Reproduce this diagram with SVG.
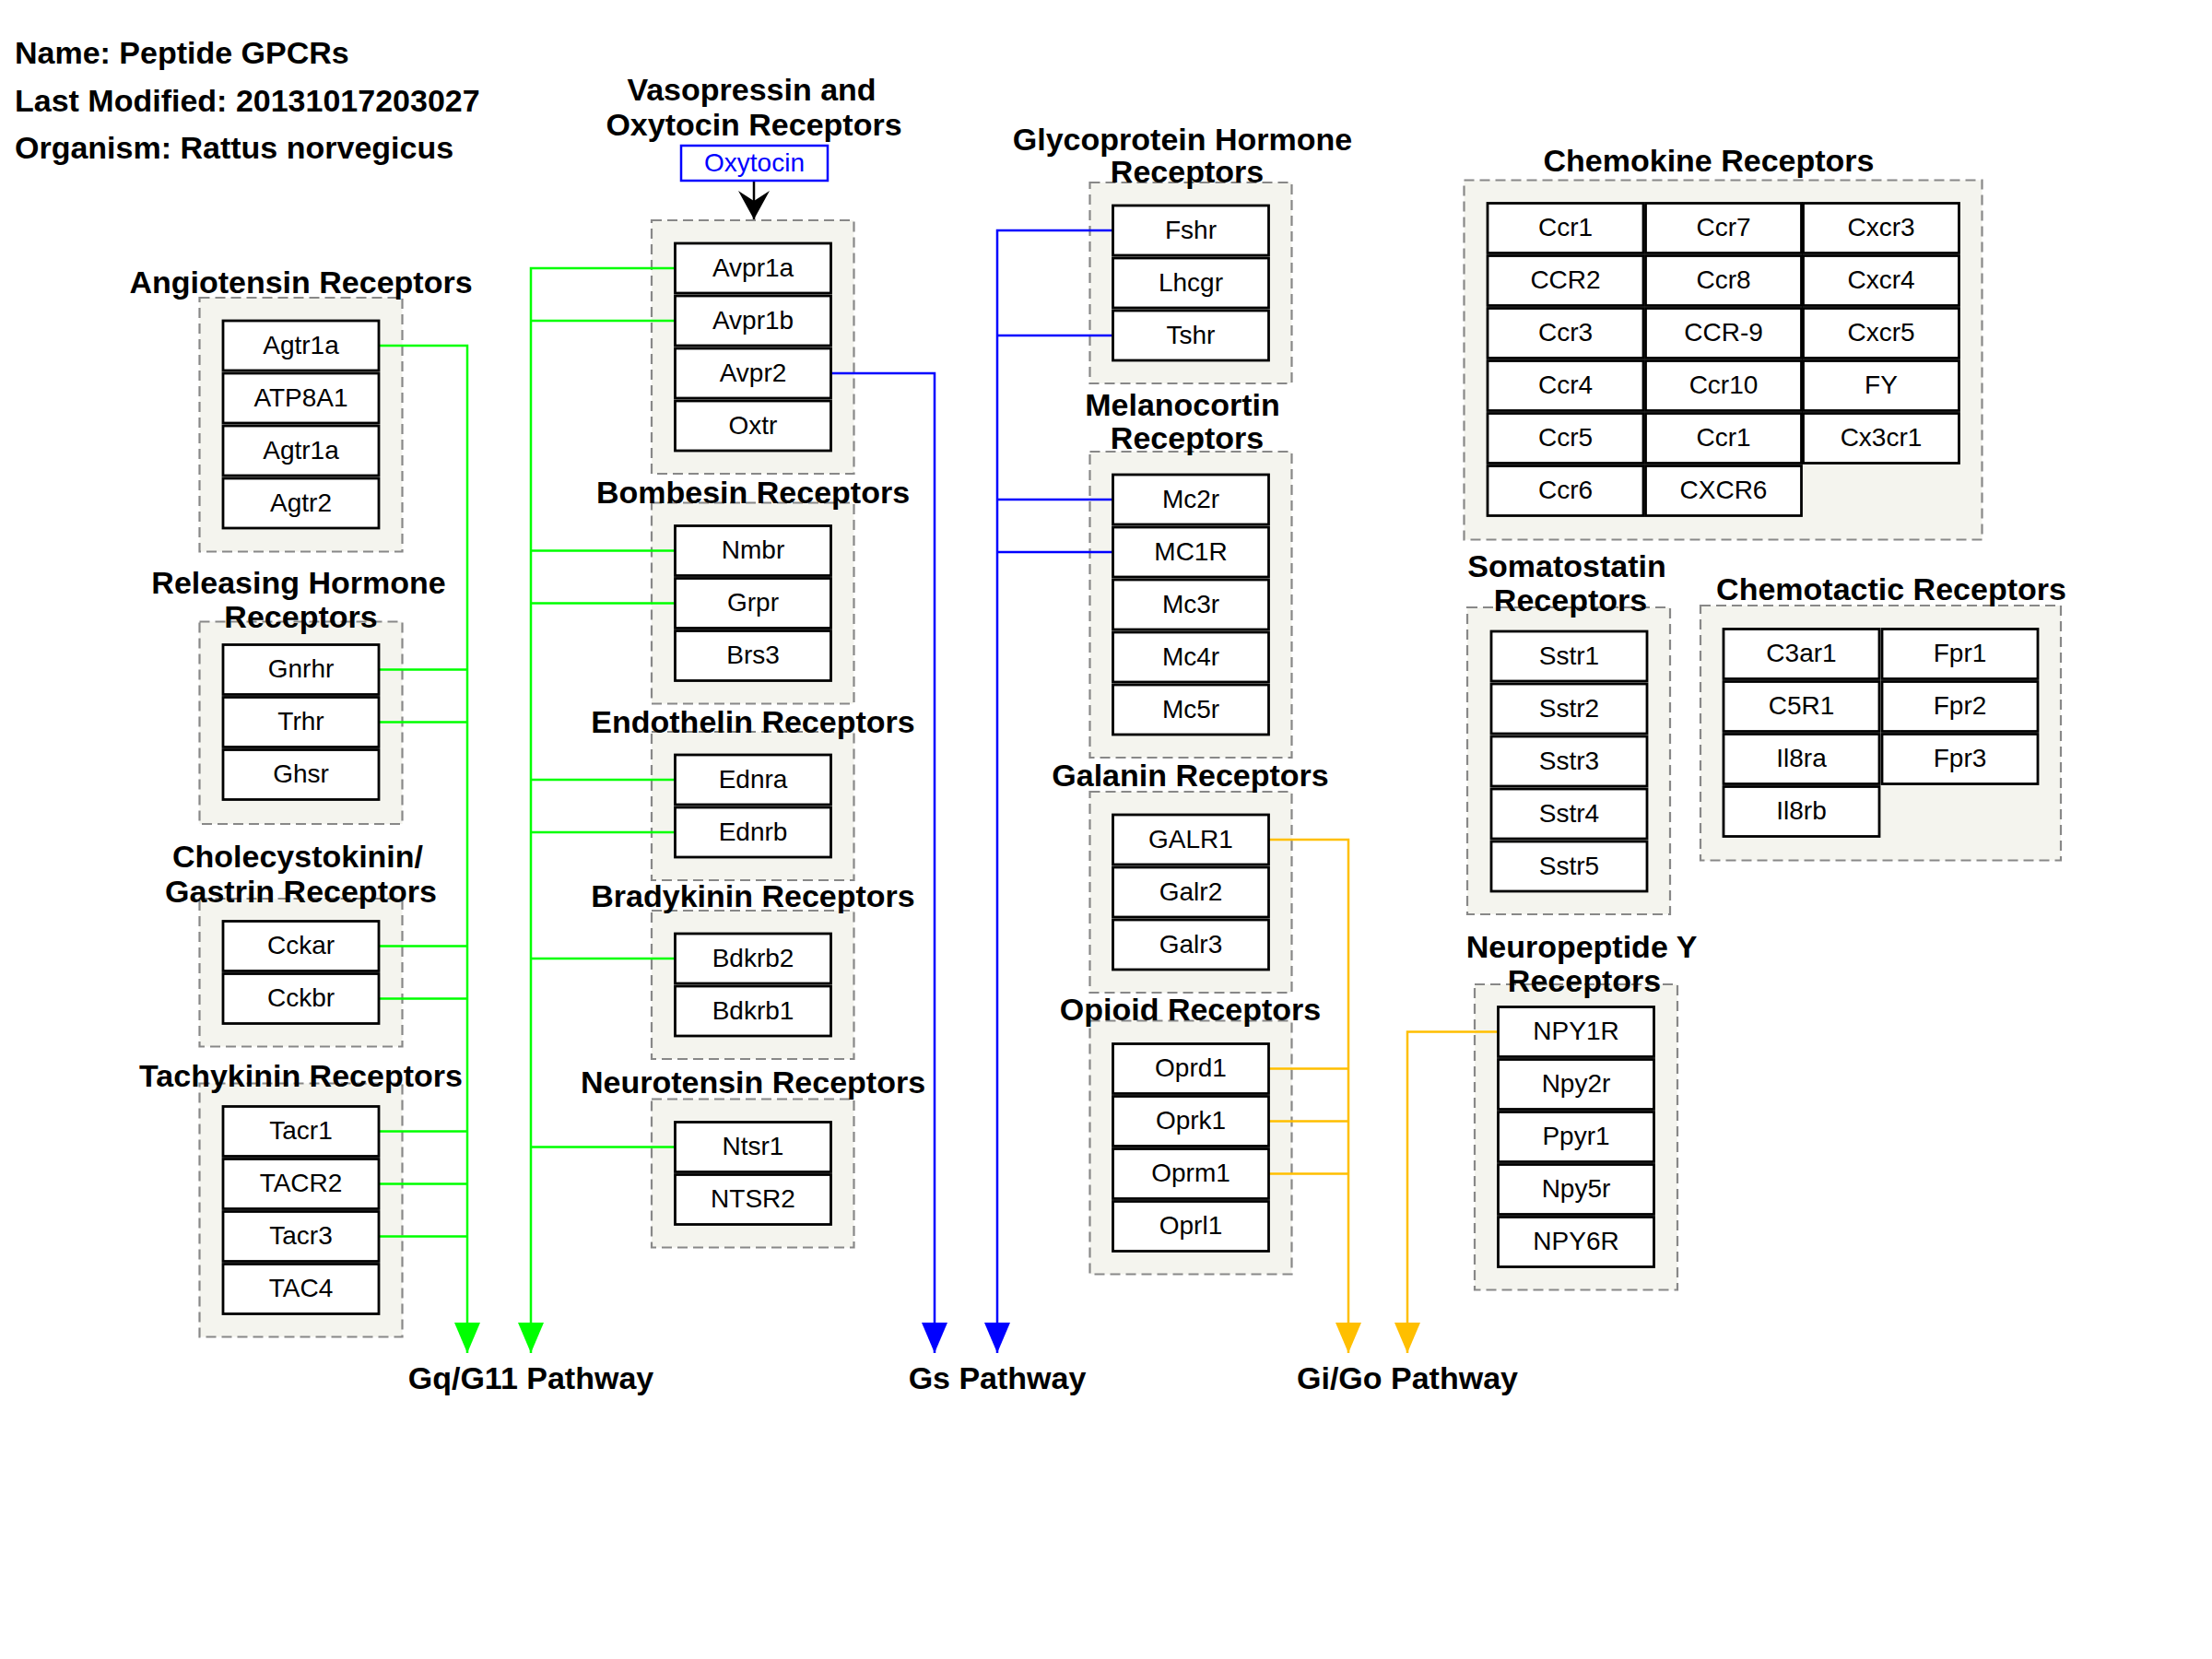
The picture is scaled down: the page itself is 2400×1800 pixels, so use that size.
<svg xmlns="http://www.w3.org/2000/svg" width="2400" height="1800" viewBox="0 0 2400 1800">
<style>
.grp{fill:#f4f4ee;stroke:#888;stroke-width:2.2;stroke-dasharray:11,6}
.box{fill:#fff;stroke:#000;stroke-width:2.8}
.lbl{font-family:"Liberation Sans",Arial,sans-serif;font-size:28px;text-anchor:middle;fill:#000}
.ttl{font-family:"Liberation Sans",Arial,sans-serif;font-size:34px;font-weight:bold;text-anchor:middle;fill:#000}
.hdr{font-family:"Liberation Sans",Arial,sans-serif;font-size:34px;font-weight:bold;fill:#000}
.pw{font-family:"Liberation Sans",Arial,sans-serif;font-size:34px;font-weight:bold;text-anchor:middle;fill:#000}
.gq{fill:none;stroke:#00ff00;stroke-width:2.5}
.gs{fill:none;stroke:#0000ff;stroke-width:2.5}
.gi{fill:none;stroke:#ffbf00;stroke-width:2.5}
</style>
<defs>
<marker id="mG" markerUnits="userSpaceOnUse" markerWidth="34" markerHeight="30" refX="33" refY="14" orient="auto" viewBox="0 0 34 30"><path d="M0,0 L33,14 L0,28 Z" fill="#00ff00"/></marker>
<marker id="mB" markerUnits="userSpaceOnUse" markerWidth="34" markerHeight="30" refX="33" refY="14" orient="auto" viewBox="0 0 34 30"><path d="M0,0 L33,14 L0,28 Z" fill="#0000ff"/></marker>
<marker id="mO" markerUnits="userSpaceOnUse" markerWidth="34" markerHeight="30" refX="33" refY="14" orient="auto" viewBox="0 0 34 30"><path d="M0,0 L33,14 L0,28 Z" fill="#ffbf00"/></marker>
<marker id="mK" markerUnits="userSpaceOnUse" markerWidth="33" markerHeight="35" refX="31" refY="17" orient="auto" viewBox="0 0 33 35"><path d="M0,0 L31,17 L0,34 L11,17 Z" fill="#000"/></marker>
</defs>
<rect width="2400" height="1800" fill="#fff"/>

<g id="header">
<text class="hdr" x="16" y="69">Name: Peptide GPCRs</text>
<text class="hdr" x="16" y="121">Last Modified: 20131017203027</text>
<text class="hdr" x="16" y="172">Organism: Rattus norvegicus</text>
</g>

<!-- group frames -->
<g id="grp-angiotensin"><rect class="grp" x="216.5" y="323" width="220" height="275.5"/><text class="ttl" x="326.5" y="318">Angiotensin Receptors</text></g>
<g id="grp-releasing"><rect class="grp" x="216.5" y="674.5" width="220" height="219.5"/><text class="ttl" x="324" y="644">Releasing Hormone</text><text class="ttl" x="326.5" y="681">Receptors</text></g>
<g id="grp-cck"><rect class="grp" x="216.5" y="975" width="220" height="160.5"/><text class="ttl" x="323" y="941">Cholecystokinin/</text><text class="ttl" x="326.5" y="978.5">Gastrin Receptors</text></g>
<g id="grp-tachykinin"><rect class="grp" x="216.5" y="1175.5" width="220" height="275"/><text class="ttl" x="326.5" y="1178.5">Tachykinin Receptors</text></g>

<g id="grp-vasopressin"><rect class="grp" x="707" y="239" width="219.5" height="275"/><text class="ttl" x="815.5" y="109">Vasopressin and</text><text class="ttl" x="818" y="147">Oxytocin Receptors</text></g>
<g id="grp-bombesin"><rect class="grp" x="707" y="545.5" width="219.5" height="218"/><text class="ttl" x="817" y="546">Bombesin Receptors</text></g>
<g id="grp-endothelin"><rect class="grp" x="707" y="794" width="219.5" height="161"/><text class="ttl" x="817" y="795">Endothelin Receptors</text></g>
<g id="grp-bradykinin"><rect class="grp" x="707" y="988" width="219.5" height="161"/><text class="ttl" x="817" y="984">Bradykinin Receptors</text></g>
<g id="grp-neurotensin"><rect class="grp" x="707" y="1192.5" width="219.5" height="161"/><text class="ttl" x="817" y="1186">Neurotensin Receptors</text></g>

<g id="grp-glyco"><rect class="grp" x="1182.5" y="198" width="219" height="218"/><text class="ttl" x="1283" y="162.5">Glycoprotein Hormone</text><text class="ttl" x="1288" y="197.5">Receptors</text></g>
<g id="grp-melano"><rect class="grp" x="1182.5" y="490" width="219" height="332"/><text class="ttl" x="1283" y="450.5">Melanocortin</text><text class="ttl" x="1288" y="487">Receptors</text></g>
<g id="grp-galanin"><rect class="grp" x="1182.5" y="859" width="219" height="218"/><text class="ttl" x="1291.5" y="853">Galanin Receptors</text></g>
<g id="grp-opioid"><rect class="grp" x="1182.5" y="1107.5" width="219" height="275"/><text class="ttl" x="1291.5" y="1106.5">Opioid Receptors</text></g>

<g id="grp-chemokine"><rect class="grp" x="1588.5" y="195.5" width="562" height="390"/><text class="ttl" x="1854" y="186">Chemokine Receptors</text></g>
<g id="grp-somatostatin"><rect class="grp" x="1592" y="659" width="220" height="333"/><text class="ttl" x="1700" y="625.5">Somatostatin</text><text class="ttl" x="1704" y="662.5">Receptors</text></g>
<g id="grp-chemotactic"><rect class="grp" x="1845" y="657" width="391" height="276.5"/><text class="ttl" x="2052" y="651">Chemotactic Receptors</text></g>
<g id="grp-npy"><rect class="grp" x="1600" y="1068" width="220" height="331.5"/><text class="ttl" x="1716" y="1039">Neuropeptide Y</text><text class="ttl" x="1719" y="1075.5">Receptors</text></g>

<!-- connectors -->
<g id="connectors">
<path class="gq" d="M411,375 H507 V1468" marker-end="url(#mG)"/>
<path class="gq" d="M411,726.5 H507 M411,783.5 H507 M411,1026.5 H507 M411,1083.5 H507 M411,1227.5 H507 M411,1284.5 H507 M411,1341.5 H507"/>
<path class="gq" d="M732.5,291 H576 V1468" marker-end="url(#mG)"/>
<path class="gq" d="M576,348 H732.5 M576,597.5 H732.5 M576,654.5 H732.5 M576,846 H732.5 M576,903 H732.5 M576,1040 H732.5 M576,1244.5 H732.5"/>
<path class="gs" d="M901.5,405 H1014 V1468" marker-end="url(#mB)"/>
<path class="gs" d="M1207.5,250 H1082 V1468" marker-end="url(#mB)"/>
<path class="gs" d="M1082,364 H1207.5 M1082,542 H1207.5 M1082,599 H1207.5"/>
<path class="gi" d="M1376.5,911 H1463 V1468" marker-end="url(#mO)"/>
<path class="gi" d="M1376.5,1159.5 H1463 M1376.5,1216.5 H1463 M1376.5,1273.5 H1463"/>
<path class="gi" d="M1625.5,1119.5 H1527 V1468" marker-end="url(#mO)"/>
<path d="M818,196 V238" fill="none" stroke="#000" stroke-width="2.5" marker-end="url(#mK)"/>
</g>

<!-- nodes -->
<g id="oxytocin"><rect x="739" y="158" width="159" height="38" fill="#fff" stroke="#0000ff" stroke-width="2.5"/><text class="lbl" x="818.5" y="186" style="fill:#0000ff">Oxytocin</text></g>

<g id="n-Agtr1a"><rect class="box" x="242" y="348" width="169" height="54"/><text class="lbl" x="326.5" y="383.5">Agtr1a</text></g>
<g id="n-ATP8A1"><rect class="box" x="242" y="405" width="169" height="54"/><text class="lbl" x="326.5" y="440.5">ATP8A1</text></g>
<g id="n-Agtr1a-2"><rect class="box" x="242" y="462" width="169" height="54"/><text class="lbl" x="326.5" y="497.5">Agtr1a</text></g>
<g id="n-Agtr2"><rect class="box" x="242" y="519" width="169" height="54"/><text class="lbl" x="326.5" y="554.5">Agtr2</text></g>

<g id="n-Gnrhr"><rect class="box" x="242" y="699.5" width="169" height="54"/><text class="lbl" x="326.5" y="735">Gnrhr</text></g>
<g id="n-Trhr"><rect class="box" x="242" y="756.5" width="169" height="54"/><text class="lbl" x="326.5" y="792">Trhr</text></g>
<g id="n-Ghsr"><rect class="box" x="242" y="813.5" width="169" height="54"/><text class="lbl" x="326.5" y="849">Ghsr</text></g>

<g id="n-Cckar"><rect class="box" x="242" y="999.5" width="169" height="54"/><text class="lbl" x="326.5" y="1035">Cckar</text></g>
<g id="n-Cckbr"><rect class="box" x="242" y="1056.5" width="169" height="54"/><text class="lbl" x="326.5" y="1092">Cckbr</text></g>

<g id="n-Tacr1"><rect class="box" x="242" y="1200.5" width="169" height="54"/><text class="lbl" x="326.5" y="1236">Tacr1</text></g>
<g id="n-TACR2"><rect class="box" x="242" y="1257.5" width="169" height="54"/><text class="lbl" x="326.5" y="1293">TACR2</text></g>
<g id="n-Tacr3"><rect class="box" x="242" y="1314.5" width="169" height="54"/><text class="lbl" x="326.5" y="1350">Tacr3</text></g>
<g id="n-TAC4"><rect class="box" x="242" y="1371.5" width="169" height="54"/><text class="lbl" x="326.5" y="1407">TAC4</text></g>

<g id="n-Avpr1a"><rect class="box" x="732.5" y="264" width="169" height="54"/><text class="lbl" x="817" y="299.5">Avpr1a</text></g>
<g id="n-Avpr1b"><rect class="box" x="732.5" y="321" width="169" height="54"/><text class="lbl" x="817" y="356.5">Avpr1b</text></g>
<g id="n-Avpr2"><rect class="box" x="732.5" y="378" width="169" height="54"/><text class="lbl" x="817" y="413.5">Avpr2</text></g>
<g id="n-Oxtr"><rect class="box" x="732.5" y="435" width="169" height="54"/><text class="lbl" x="817" y="470.5">Oxtr</text></g>

<g id="n-Nmbr"><rect class="box" x="732.5" y="570.5" width="169" height="54"/><text class="lbl" x="817" y="606">Nmbr</text></g>
<g id="n-Grpr"><rect class="box" x="732.5" y="627.5" width="169" height="54"/><text class="lbl" x="817" y="663">Grpr</text></g>
<g id="n-Brs3"><rect class="box" x="732.5" y="684.5" width="169" height="54"/><text class="lbl" x="817" y="720">Brs3</text></g>

<g id="n-Ednra"><rect class="box" x="732.5" y="819" width="169" height="54"/><text class="lbl" x="817" y="854.5">Ednra</text></g>
<g id="n-Ednrb"><rect class="box" x="732.5" y="876" width="169" height="54"/><text class="lbl" x="817" y="911.5">Ednrb</text></g>

<g id="n-Bdkrb2"><rect class="box" x="732.5" y="1013" width="169" height="54"/><text class="lbl" x="817" y="1048.5">Bdkrb2</text></g>
<g id="n-Bdkrb1"><rect class="box" x="732.5" y="1070" width="169" height="54"/><text class="lbl" x="817" y="1105.5">Bdkrb1</text></g>

<g id="n-Ntsr1"><rect class="box" x="732.5" y="1217.5" width="169" height="54"/><text class="lbl" x="817" y="1253">Ntsr1</text></g>
<g id="n-NTSR2"><rect class="box" x="732.5" y="1274.5" width="169" height="54"/><text class="lbl" x="817" y="1310">NTSR2</text></g>

<g id="n-Fshr"><rect class="box" x="1207.5" y="223" width="169" height="54"/><text class="lbl" x="1292" y="258.5">Fshr</text></g>
<g id="n-Lhcgr"><rect class="box" x="1207.5" y="280" width="169" height="54"/><text class="lbl" x="1292" y="315.5">Lhcgr</text></g>
<g id="n-Tshr"><rect class="box" x="1207.5" y="337" width="169" height="54"/><text class="lbl" x="1292" y="372.5">Tshr</text></g>

<g id="n-Mc2r"><rect class="box" x="1207.5" y="515" width="169" height="54"/><text class="lbl" x="1292" y="550.5">Mc2r</text></g>
<g id="n-MC1R"><rect class="box" x="1207.5" y="572" width="169" height="54"/><text class="lbl" x="1292" y="607.5">MC1R</text></g>
<g id="n-Mc3r"><rect class="box" x="1207.5" y="629" width="169" height="54"/><text class="lbl" x="1292" y="664.5">Mc3r</text></g>
<g id="n-Mc4r"><rect class="box" x="1207.5" y="686" width="169" height="54"/><text class="lbl" x="1292" y="721.5">Mc4r</text></g>
<g id="n-Mc5r"><rect class="box" x="1207.5" y="743" width="169" height="54"/><text class="lbl" x="1292" y="778.5">Mc5r</text></g>

<g id="n-GALR1"><rect class="box" x="1207.5" y="884" width="169" height="54"/><text class="lbl" x="1292" y="919.5">GALR1</text></g>
<g id="n-Galr2"><rect class="box" x="1207.5" y="941" width="169" height="54"/><text class="lbl" x="1292" y="976.5">Galr2</text></g>
<g id="n-Galr3"><rect class="box" x="1207.5" y="998" width="169" height="54"/><text class="lbl" x="1292" y="1033.5">Galr3</text></g>

<g id="n-Oprd1"><rect class="box" x="1207.5" y="1132.5" width="169" height="54"/><text class="lbl" x="1292" y="1168">Oprd1</text></g>
<g id="n-Oprk1"><rect class="box" x="1207.5" y="1189.5" width="169" height="54"/><text class="lbl" x="1292" y="1225">Oprk1</text></g>
<g id="n-Oprm1"><rect class="box" x="1207.5" y="1246.5" width="169" height="54"/><text class="lbl" x="1292" y="1282">Oprm1</text></g>
<g id="n-Oprl1"><rect class="box" x="1207.5" y="1303.5" width="169" height="54"/><text class="lbl" x="1292" y="1339">Oprl1</text></g>

<g id="n-Ccr1"><rect class="box" x="1614" y="220.5" width="169" height="54"/><text class="lbl" x="1698.5" y="256">Ccr1</text></g>
<g id="n-CCR2"><rect class="box" x="1614" y="277.5" width="169" height="54"/><text class="lbl" x="1698.5" y="313">CCR2</text></g>
<g id="n-Ccr3"><rect class="box" x="1614" y="334.5" width="169" height="54"/><text class="lbl" x="1698.5" y="370">Ccr3</text></g>
<g id="n-Ccr4"><rect class="box" x="1614" y="391.5" width="169" height="54"/><text class="lbl" x="1698.5" y="427">Ccr4</text></g>
<g id="n-Ccr5"><rect class="box" x="1614" y="448.5" width="169" height="54"/><text class="lbl" x="1698.5" y="484">Ccr5</text></g>
<g id="n-Ccr6"><rect class="box" x="1614" y="505.5" width="169" height="54"/><text class="lbl" x="1698.5" y="541">Ccr6</text></g>
<g id="n-Ccr7"><rect class="box" x="1785.5" y="220.5" width="169" height="54"/><text class="lbl" x="1870" y="256">Ccr7</text></g>
<g id="n-Ccr8"><rect class="box" x="1785.5" y="277.5" width="169" height="54"/><text class="lbl" x="1870" y="313">Ccr8</text></g>
<g id="n-CCR-9"><rect class="box" x="1785.5" y="334.5" width="169" height="54"/><text class="lbl" x="1870" y="370">CCR-9</text></g>
<g id="n-Ccr10"><rect class="box" x="1785.5" y="391.5" width="169" height="54"/><text class="lbl" x="1870" y="427">Ccr10</text></g>
<g id="n-Ccr1-2"><rect class="box" x="1785.5" y="448.5" width="169" height="54"/><text class="lbl" x="1870" y="484">Ccr1</text></g>
<g id="n-CXCR6"><rect class="box" x="1785.5" y="505.5" width="169" height="54"/><text class="lbl" x="1870" y="541">CXCR6</text></g>
<g id="n-Cxcr3"><rect class="box" x="1956.5" y="220.5" width="169" height="54"/><text class="lbl" x="2041" y="256">Cxcr3</text></g>
<g id="n-Cxcr4"><rect class="box" x="1956.5" y="277.5" width="169" height="54"/><text class="lbl" x="2041" y="313">Cxcr4</text></g>
<g id="n-Cxcr5"><rect class="box" x="1956.5" y="334.5" width="169" height="54"/><text class="lbl" x="2041" y="370">Cxcr5</text></g>
<g id="n-FY"><rect class="box" x="1956.5" y="391.5" width="169" height="54"/><text class="lbl" x="2041" y="427">FY</text></g>
<g id="n-Cx3cr1"><rect class="box" x="1956.5" y="448.5" width="169" height="54"/><text class="lbl" x="2041" y="484">Cx3cr1</text></g>

<g id="n-Sstr1"><rect class="box" x="1618" y="685" width="169" height="54"/><text class="lbl" x="1702.5" y="720.5">Sstr1</text></g>
<g id="n-Sstr2"><rect class="box" x="1618" y="742" width="169" height="54"/><text class="lbl" x="1702.5" y="777.5">Sstr2</text></g>
<g id="n-Sstr3"><rect class="box" x="1618" y="799" width="169" height="54"/><text class="lbl" x="1702.5" y="834.5">Sstr3</text></g>
<g id="n-Sstr4"><rect class="box" x="1618" y="856" width="169" height="54"/><text class="lbl" x="1702.5" y="891.5">Sstr4</text></g>
<g id="n-Sstr5"><rect class="box" x="1618" y="913" width="169" height="54"/><text class="lbl" x="1702.5" y="948.5">Sstr5</text></g>

<g id="n-C3ar1"><rect class="box" x="1870" y="682.5" width="169" height="54"/><text class="lbl" x="1954.5" y="718">C3ar1</text></g>
<g id="n-C5R1"><rect class="box" x="1870" y="739.5" width="169" height="54"/><text class="lbl" x="1954.5" y="775">C5R1</text></g>
<g id="n-Il8ra"><rect class="box" x="1870" y="796.5" width="169" height="54"/><text class="lbl" x="1954.5" y="832">Il8ra</text></g>
<g id="n-Il8rb"><rect class="box" x="1870" y="853.5" width="169" height="54"/><text class="lbl" x="1954.5" y="889">Il8rb</text></g>
<g id="n-Fpr1"><rect class="box" x="2042" y="682.5" width="169" height="54"/><text class="lbl" x="2126.5" y="718">Fpr1</text></g>
<g id="n-Fpr2"><rect class="box" x="2042" y="739.5" width="169" height="54"/><text class="lbl" x="2126.5" y="775">Fpr2</text></g>
<g id="n-Fpr3"><rect class="box" x="2042" y="796.5" width="169" height="54"/><text class="lbl" x="2126.5" y="832">Fpr3</text></g>

<g id="n-NPY1R"><rect class="box" x="1625.5" y="1092.5" width="169" height="54"/><text class="lbl" x="1710" y="1128">NPY1R</text></g>
<g id="n-Npy2r"><rect class="box" x="1625.5" y="1149.5" width="169" height="54"/><text class="lbl" x="1710" y="1185">Npy2r</text></g>
<g id="n-Ppyr1"><rect class="box" x="1625.5" y="1206.5" width="169" height="54"/><text class="lbl" x="1710" y="1242">Ppyr1</text></g>
<g id="n-Npy5r"><rect class="box" x="1625.5" y="1263.5" width="169" height="54"/><text class="lbl" x="1710" y="1299">Npy5r</text></g>
<g id="n-NPY6R"><rect class="box" x="1625.5" y="1320.5" width="169" height="54"/><text class="lbl" x="1710" y="1356">NPY6R</text></g>

<g id="pathways">
<text class="pw" x="576" y="1507">Gq/G11 Pathway</text>
<text class="pw" x="1082" y="1507">Gs Pathway</text>
<text class="pw" x="1527" y="1507">Gi/Go Pathway</text>
</g>
</svg>
